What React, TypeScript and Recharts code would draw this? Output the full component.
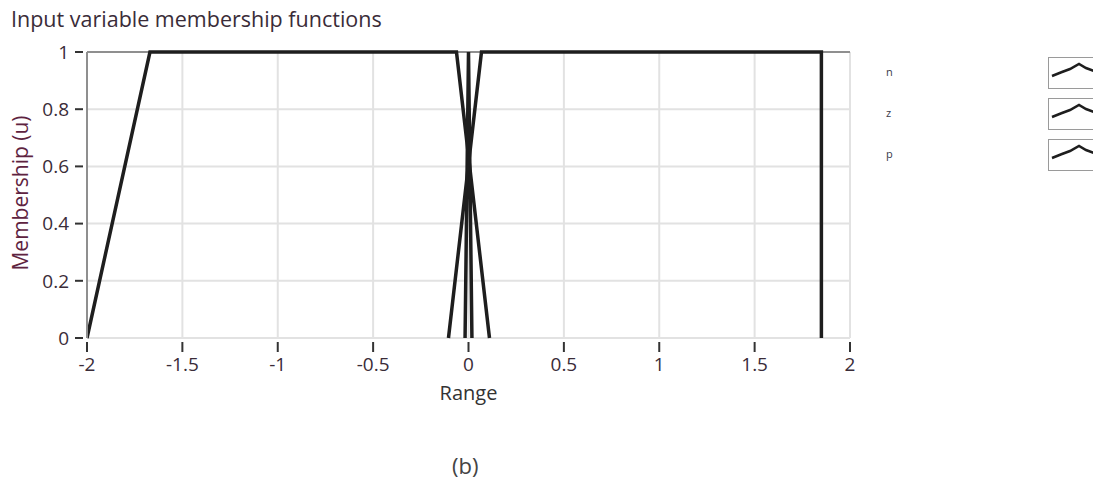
import { LineChart, Line, XAxis, YAxis, CartesianGrid, ReferenceLine, Label } from "recharts";

// membership function vertices
const nPoints = [
  { x: -2, y: 0 },
  { x: -1.67, y: 1 },
  { x: -0.063, y: 1 },
  { x: 0.11, y: 0 },
];
const zPoints = [
  { x: -0.018, y: 0 },
  { x: 0, y: 1 },
  { x: 0.018, y: 0 },
];
const pPoints = [
  { x: -0.105, y: 0 },
  { x: 0.068, y: 1 },
  { x: 1.85, y: 1 },
  { x: 1.85, y: 0 },
];

const series = [
  { key: "n", data: nPoints },
  { key: "z", data: zPoints },
  { key: "p", data: pPoints },
];

const xTicks = [-2, -1.5, -1, -0.5, 0, 0.5, 1, 1.5, 2];
const yTicks = [0, 0.2, 0.4, 0.6, 0.8, 1];

const FONT = "'Open Sans', 'Noto Sans', sans-serif";
const TEXT = "#3a2c38";
const LINE = "#1e1e1e";
const TICK_SIZE = 19;

function XTick(props: any) {
  const { x, y, payload } = props;
  return (
    <text x={x} y={y} dy="0.71em" textAnchor="middle" fill={TEXT} fontSize={TICK_SIZE} fontFamily={FONT}>
      {String(payload.value)}
    </text>
  );
}

function YTick(props: any) {
  const { x, y, payload } = props;
  return (
    <text x={x} y={y} dy="0.36em" textAnchor="end" fill={TEXT} fontSize={TICK_SIZE} fontFamily={FONT}>
      {String(payload.value)}
    </text>
  );
}

function LegendIcon() {
  return (
    <svg width={46} height={32} style={{ display: "block" }}>
      <rect x={0.5} y={0.5} width={50} height={31} fill="#fff" stroke="#9a9a9a" />
      <polyline points="4,19 14,15 22,12 31,7 38,11 46,14" fill="none" stroke={LINE} strokeWidth={2.5} />
    </svg>
  );
}

export default function App() {
  return (
    <div style={{ position: "absolute", left: 0, top: 0, width: 1093, height: 481, background: "#fff", fontFamily: FONT, overflow: "hidden" }}>
      <div style={{ position: "absolute", left: 11, top: 4, fontSize: 21.5, color: TEXT, whiteSpace: "nowrap" }}>
        Input variable membership functions
      </div>
      <LineChart width={1093} height={481} margin={{ top: 52, right: 243, bottom: 103, left: 0 }}>
        <CartesianGrid stroke="#e2e2e2" strokeWidth={2} />
        <XAxis
          type="number"
          dataKey="x"
          domain={[-2, 2]}
          ticks={xTicks}
          allowDataOverflow
          height={40}
          axisLine={false}
          tickSize={10}
          tickMargin={10}
          tickLine={{ stroke: "#333", strokeWidth: 2, transform: "translate(0,4)" }}
          tick={<XTick />}
        >
          <Label value="Range" position="insideBottom" offset={-22} fill="#333" fontSize={20} fontFamily={FONT} />
        </XAxis>
        <YAxis
          type="number"
          domain={[0, 1]}
          ticks={yTicks}
          width={87}
          axisLine={{ stroke: "#8f8f8f", strokeWidth: 2 }}
          tickSize={8}
          tickMargin={10}
          tickLine={{ stroke: "#333", strokeWidth: 2, transform: "translate(-4,0)" }}
          tick={<YTick />}
        >
          <Label value="Membership (u)" angle={-90} position="insideLeft" offset={21} dy={-2} fill="#5e2340" fontSize={21} fontFamily={FONT} style={{ textAnchor: "middle" }} />
        </YAxis>
        <ReferenceLine y={1} stroke="#8f8f8f" strokeWidth={2} />
        {series.map((s) => (
          <Line
            key={s.key}
            data={s.data}
            dataKey="y"
            name={s.key}
            type="linear"
            stroke={LINE}
            strokeWidth={3.5}
            dot={false}
            activeDot={false}
            isAnimationActive={false}
          />
        ))}
      </LineChart>
      {series.map((s, i) => (
        <div key={s.key}>
          <div style={{ position: "absolute", left: 886, top: 64 + i * 41, fontSize: 11, color: "#3a3a4a" }}>{s.key}</div>
          <div style={{ position: "absolute", left: 1048, top: 57 + i * 41 }}>
            <LegendIcon />
          </div>
        </div>
      ))}
      <div style={{ position: "absolute", left: 452, top: 452, fontSize: 22, lineHeight: "26px", color: "#444" }}>(b)</div>
    </div>
  );
}
